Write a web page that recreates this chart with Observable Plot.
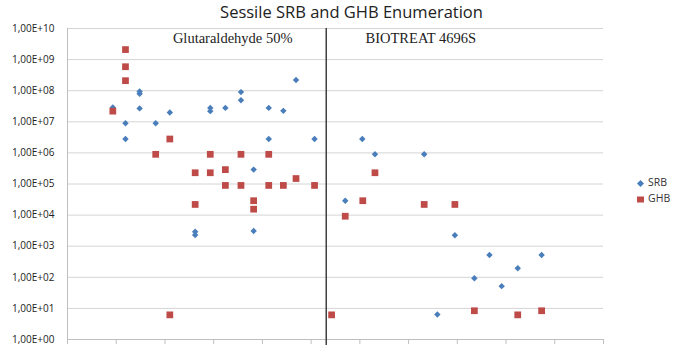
<!DOCTYPE html>
<html>
<head>
<meta charset="utf-8">
<script src="https://cdn.jsdelivr.net/npm/d3@7"></script>
<script src="https://cdn.jsdelivr.net/npm/@observablehq/plot@0.6"></script>
<style>
  html, body { margin: 0; padding: 0; background: #fff; }
  #wrap { position: relative; width: 675px; height: 353px; overflow: hidden; }
  #title { position: absolute; left: 0; width: 703px; top: 0px; text-align: center;
           font: 500 16.5px "Open Sans", sans-serif; color: #222; }
  .leg { position: absolute; left: 636px; font: 10.5px "Open Sans", sans-serif; color: #333; }
  .leg svg { vertical-align: middle; margin-right: 3px; }
</style>
</head>
<body>
<div id="wrap">
  <div id="chart"></div>
  <div id="title">Sessile SRB and GHB Enumeration</div>
  <div class="leg" style="top:175px"><svg width="9" height="9"><path d="M4.5,1L8,4.5L4.5,8L1,4.5Z" fill="#4A7EBB"/></svg>SRB</div>
  <div class="leg" style="top:191px"><svg width="9" height="9"><rect x="1" y="1.5" width="7" height="6" fill="#BE4B48"/></svg>GHB</div>
</div>
<script>
const srbX = [0.93,1.19,1.19,1.48,1.48,1.48,1.81,2.10,2.62,2.62,2.93,2.93,3.24,3.56,3.56,3.82,3.82,4.13,4.13,4.43,4.69,5.07,5.70,6.05,6.31,7.32,7.59,7.95,8.35,8.66,8.91,9.24,9.73];
const srbY = [2.9e7,9e6,2.8e6,9.5e7,8e7,2.7e7,9e6,2e7,2.9e3,2.3e3,2.8e7,2.2e7,2.8e7,9e7,4.9e7,2.9e5,3.1e3,2.8e7,2.8e6,2.25e7,2.2e8,2.8e6,2.9e4,2.8e6,9e5,9e5,6.4,2.25e3,93,520,52,195,520];
const ghbX = [0.93,1.19,1.19,1.19,1.81,2.10,2.10,2.62,2.62,2.93,2.93,3.24,3.24,3.56,3.56,3.82,3.82,4.13,4.13,4.43,4.69,5.07,5.42,5.70,6.06,6.31,7.32,7.95,8.35,9.24,9.73];
const ghbY = [2.2e7,2.1e9,5.9e8,2.1e8,9e5,2.8e6,6.2,2.3e5,2.2e4,9e5,2.3e5,2.9e5,9e4,9e5,9e4,2.9e4,1.55e4,9e5,9e4,9e4,1.5e5,9e4,6.2,9.2e3,2.9e4,2.3e5,2.2e4,2.2e4,8.4,6.2,8.4];
const yTicks = [1,1e1,1e2,1e3,1e4,1e5,1e6,1e7,1e8,1e9,1e10];
const xTicks = [0,1,2,3,4,5,6,7,8,9,10,11];
const separatorX = [5.31];
const treatments = ["Glutaraldehyde 50%", "BIOTREAT 4696S"];
const treatmentX = [3.39, 7.25];
const treatmentY = [4.8e9, 4.8e9];

const srb = srbX.map((x, i) => ({x, y: srbY[i]}));
const ghb = ghbX.map((x, i) => ({x, y: ghbY[i]}));
const labels = treatments.map((t, i) => ({t, x: treatmentX[i], y: treatmentY[i]}));

const fmt = v => "1,00E+" + String(Math.round(Math.log10(v))).padStart(2, "0");

const chart = Plot.plot({
  width: 675, height: 353,
  marginLeft: 67, marginRight: 72, marginTop: 28, marginBottom: 14,
  style: {fontFamily: "Open Sans", fontSize: "10px", color: "#222", background: "white"},
  x: {domain: [0, 11], axis: null, label: null},
  y: {type: "log", domain: [1, 1e10], axis: null, label: null},
  marks: [
    Plot.gridY(yTicks, {stroke: "#d4d4d4", strokeOpacity: 1, strokeWidth: 1}),
    Plot.ruleX([0], {stroke: "#bfbfbf"}),
    Plot.ruleY([1], {stroke: "#bfbfbf"}),
    Plot.axisX(xTicks, {tickSize: 5, tickFormat: () => "", label: null, stroke: "#bfbfbf", strokeOpacity: 1}),
    Plot.axisY(yTicks, {tickSize: 0, tickPadding: 13, tickFormat: fmt, label: null, fill: "#222", fontSize: 10, fontWeight: 500}),
    Plot.ruleX(separatorX, {stroke: "#404040", strokeWidth: 1.5, y1: 1e10, y2: 1, insetBottom: -6}),
    Plot.text(labels, {x: "x", y: "y", text: "t", fontFamily: "Liberation Serif", fontSize: 14.5, fill: "#222"}),
    Plot.dot(srb, {x: "x", y: "y", symbol: "diamond2", r: 2.9, fill: "#4A7EBB", stroke: "none"}),
    Plot.dot(ghb, {x: "x", y: "y", symbol: "square", r: 3.8, fill: "#BE4B48", stroke: "none"})
  ]
});
document.getElementById("chart").appendChild(chart);
</script>
</body>
</html>
